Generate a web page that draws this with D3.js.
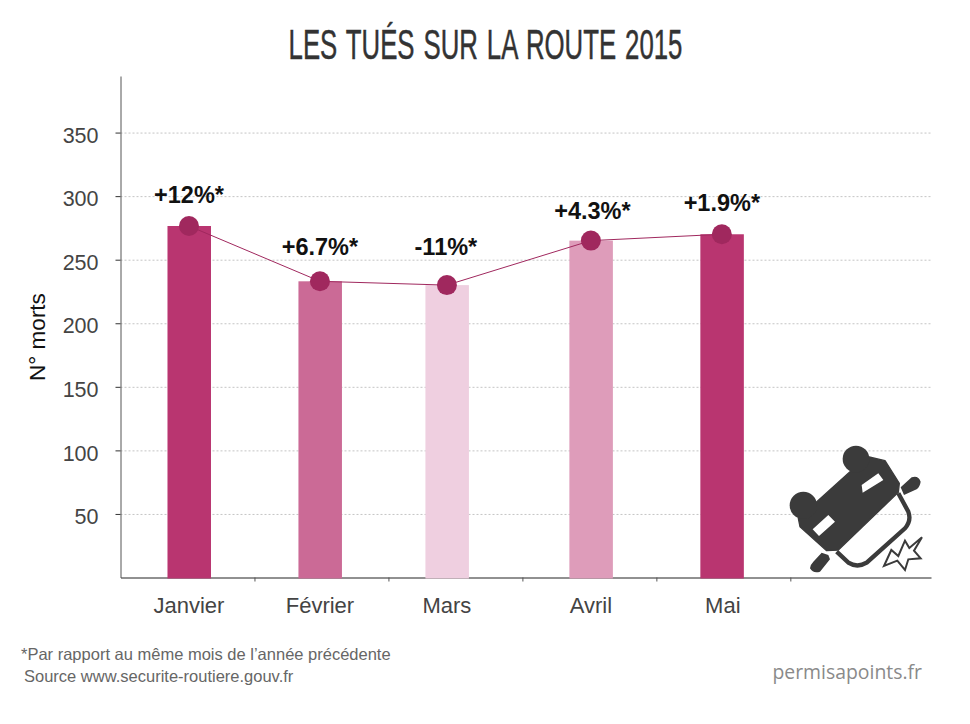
<!DOCTYPE html>
<html>
<head>
<meta charset="utf-8">
<script src="https://cdn.jsdelivr.net/npm/d3@7"></script>
<style>
  html, body { margin: 0; padding: 0; background: #fff; }
  text { font-family: "Liberation Sans", Arial, sans-serif; }
</style>
</head>
<body>
<div id="chart"></div>
<script>
// Les tues sur la route 2015: bars + line

var months = ["Janvier", "Février", "Mars", "Avril", "Mai"]
var deaths = [276.5, 233, 230, 265, 270]
var changes = ["+12%*", "+6.7%*", "-11%*", "+4.3%*", "+1.9%*"]
var yTicks = [50, 100, 150, 200, 250, 300, 350]

// Bars are not quite centred between the axis ticks in the original
var barNudge = [1.5, -1.5, -8.5, 1.5, -1.5]
var labelNudge = [1.5, -1.5, -8.5, 1.5, -0.5]
var changeNudge = [0, 0, -1, 1.5, 0]
var changeRaise = [23, 26, 30, 22, 23]
var barColors = ["#b93570", "#cb6a96", "#efcfe0", "#de9cba", "#b93570"]

var svg = d3.select("#chart").append("svg")
    .attr("width", 970)
    .attr("height", 724)
    .style("display", "block")

// Scales

var yScale = d3.scaleLinear()
  .domain([0, 394.5])
  .range([577.5, 76])

var xScale = d3.scaleLinear()
  .domain([0, 6.05])
  .range([120.5, 931])

function centerX(i) {
  return xScale(i + 0.5) + barNudge[i]
}

// Title: no condensed font here, so squeeze a normal one to the original width

var title = svg.append("text")
  .attr("text-anchor", "middle")
  .style("font-size", "43px")
  .style("word-spacing", "3px")
  .attr("fill", "#333")
  .attr("stroke", "#333")
  .attr("stroke-width", 0.5)
  .text("LES TUÉS SUR LA ROUTE 2015")

var titleScale = 394 / title.node().getComputedTextLength()
title.attr("transform", "translate(485.5,59) scale(" + titleScale + ",1)")

// Grid

var grid = svg.append("g")
  .attr("transform", "translate(120.5,0)")
  .call(d3.axisLeft(yScale).tickValues(yTicks).tickSize(-810.5).tickFormat(""))

grid.select(".domain").remove()
grid.selectAll("line")
  .attr("stroke", "#c4c4c4")
  .attr("stroke-dasharray", "2,2")

// Axes

var xAxis = svg.append("g")
  .attr("transform", "translate(0,577.5)")
  .call(d3.axisBottom(xScale).tickValues([1, 2, 3, 4, 5]).tickSizeOuter(0).tickSizeInner(4).tickFormat(""))

xAxis.select(".domain").attr("stroke", "#222")
xAxis.selectAll("line").attr("stroke", "#555")

var yAxis = svg.append("g")
  .attr("transform", "translate(120.5,0)")
  .call(d3.axisLeft(yScale).tickValues(yTicks).tickSizeOuter(0).tickSizeInner(5).tickPadding(17))

yAxis.select(".domain").attr("stroke", "#555")
yAxis.selectAll("line").attr("stroke", "#333")
yAxis.selectAll("text")
  .attr("dy", "0.45em")
  .attr("fill", "#444")
  .style("font-size", "21.5px")
  .style("font-family", "'Liberation Sans', sans-serif")

// Bars

svg.selectAll(".bar")
  .data(deaths)
  .enter().append("rect")
  .attr("class", "bar")
  .attr("x", function (d, i) { return centerX(i) - 21.5 })
  .attr("width", 43.5)
  .attr("y", function (d) { return yScale(d) })
  .attr("height", function (d) { return yScale(0) - yScale(d) + 1 })
  .attr("fill", function (d, i) { return barColors[i] })

svg.selectAll(".month")
  .data(months)
  .enter().append("text")
  .attr("class", "month")
  .attr("x", function (d, i) { return xScale(i + 0.5) + labelNudge[i] })
  .attr("y", 613)
  .attr("text-anchor", "middle")
  .attr("fill", "#444")
  .style("font-size", "22px")
  .text(function (d) { return d })

svg.append("text")
  .attr("transform", "translate(44.5,337) rotate(-90)")
  .attr("text-anchor", "middle")
  .attr("fill", "#111")
  .style("font-size", "22.5px")
  .text("N° morts")

// Line + dots

var line = d3.line()
  .x(function (d, i) { return centerX(i) })
  .y(function (d) { return yScale(d) })

svg.append("path")
  .datum(deaths)
  .attr("d", line)
  .attr("fill", "none")
  .attr("stroke", "#a0285e")
  .attr("stroke-width", 1)

svg.selectAll(".dot")
  .data(deaths)
  .enter().append("circle")
  .attr("class", "dot")
  .attr("cx", function (d, i) { return centerX(i) })
  .attr("cy", function (d) { return yScale(d) })
  .attr("r", 10)
  .attr("fill", "#a0285e")

svg.selectAll(".change")
  .data(changes)
  .enter().append("text")
  .attr("class", "change")
  .attr("x", function (d, i) { return centerX(i) + changeNudge[i] })
  .attr("y", function (d, i) { return yScale(deaths[i]) - changeRaise[i] })
  .attr("text-anchor", "middle")
  .attr("fill", "#111")
  .style("font-size", "23.5px")
  .style("font-weight", "bold")
  .text(function (d) { return d })

// Footer

svg.append("text")
  .attr("x", 21)
  .attr("y", 660)
  .attr("fill", "#666")
  .style("font-size", "16.5px")
  .text("*Par rapport au même mois de l’année précédente")

svg.append("text")
  .attr("x", 24)
  .attr("y", 682)
  .attr("fill", "#666")
  .style("font-size", "16.5px")
  .text("Source www.securite-routiere.gouv.fr")

svg.append("text")
  .attr("x", 922)
  .attr("y", 679)
  .attr("text-anchor", "end")
  .attr("fill", "#8a8a8a")
  .style("font-family", "'Open Sans', sans-serif")
  .style("font-size", "19.4px")
  .text("permisapoints.fr")

// Overturned car icon, drawn in the coordinates of a 3x crop

var car = svg.append("g")
  .attr("transform", "translate(770,430) scale(0.3333)")

var dark = "#3b3b3b"

car.append("path")
  .attr("d", "M137 218 L240 125 L285 78 L345 92 L388 160 L385 187 L205 360 L170 362 L90 290 L85 265 Z")
  .attr("fill", dark)
  .attr("stroke", dark)
  .attr("stroke-width", 4)
  .attr("stroke-linejoin", "round")

car.append("circle").attr("cx", 258).attr("cy", 87).attr("r", 40).attr("fill", dark)
car.append("circle").attr("cx", 100).attr("cy", 226).attr("r", 41).attr("fill", dark)

car.append("path")
  .attr("d", "M275 165 L325 130 L340 150 L278 188 Z M128 298 L175 255 L195 275 L147 318 Z")
  .attr("fill", "#fff")

car.append("path")
  .attr("d", "M385 190 L415 245 Q425 272 405 295 L290 398 Q262 415 235 398 L200 365")
  .attr("fill", "none")
  .attr("stroke", dark)
  .attr("stroke-width", 13)

car.append("path")
  .attr("d", "M392 172 L425 142 Q445 135 452 155 Q450 170 440 178 L402 195 Z M155 368 L175 375 L180 388 L150 425 Q130 432 120 415 Q120 405 130 395 Z")
  .attr("fill", dark)

car.append("path")
  .attr("d", "M342 408 L364 360 L385 378 L405 332 L418 354 L456 322 L432 362 L452 385 L415 388 L405 420 L382 392 Z")
  .attr("fill", "none")
  .attr("stroke", dark)
  .attr("stroke-width", 6)
</script>
</body>
</html>
